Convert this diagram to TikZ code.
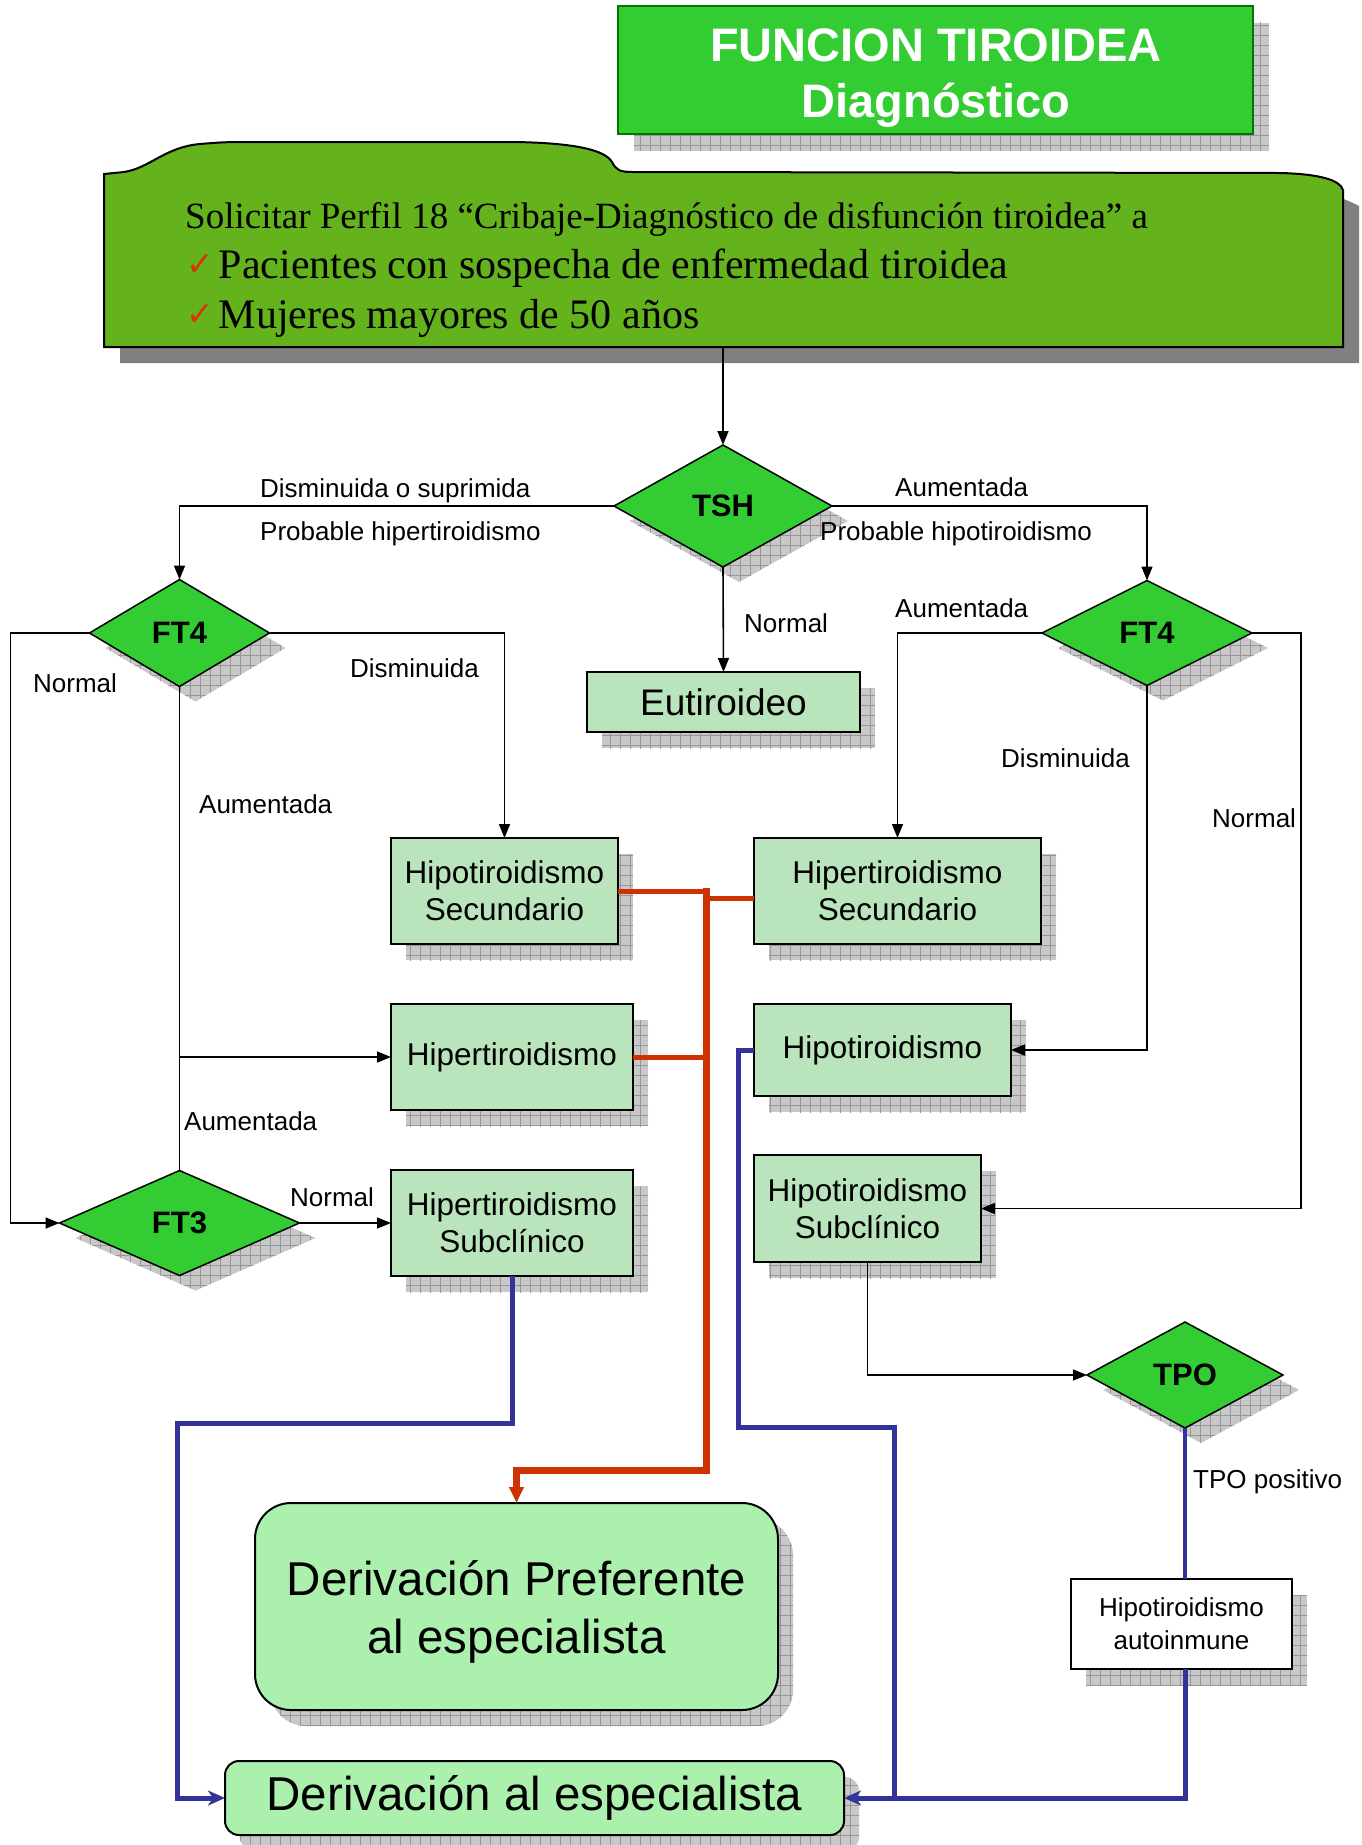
\documentclass[tikz,border=0pt]{standalone}
\usepackage{fontspec}
\setmainfont{Liberation Sans}
\newfontfamily\timesf{Liberation Serif}
\newfontfamily\dejaf{DejaVu Sans}
\usetikzlibrary{shapes.geometric,arrows.meta,patterns.meta,calc}
\pgfdeclarelayer{bg}
\pgfsetlayers{bg,main}
\definecolor{diagreen}{RGB}{51,204,51}
\definecolor{titleborder}{RGB}{0,120,0}
\definecolor{boxgreen}{RGB}{186,228,188}
\definecolor{derivgreen}{RGB}{172,240,174}
\definecolor{foldergreen}{RGB}{100,178,28}
\definecolor{fshadow}{RGB}{128,128,128}
\definecolor{shgray}{RGB}{200,200,200}
\definecolor{shline}{RGB}{150,150,150}
\definecolor{redc}{RGB}{204,51,0}
\definecolor{bluec}{RGB}{51,51,153}
\definecolor{checkred}{RGB}{220,50,10}
\newcommand\chkmark{{\dejaf\fontsize{33}{36}\selectfont\color{checkred}\raisebox{3pt}{✓}}\hspace{5pt}}
\newcommand\fldbody{(104,347) -- (104,174) -- (124,172) .. controls (150,168) and (165,147) .. (200,144) .. controls (225,142) .. (260,142) -- (515,142) .. controls (575,143) and (605,150) .. (612,162) .. controls (616,170) and (620,172) .. (632,172) -- (1280,173) .. controls (1320,174) and (1340,180) .. (1343,190) -- (1343,347) -- cycle}
\begin{document}
\begin{tikzpicture}[x=1pt,y=-1pt,
  lbl/.style={inner sep=0pt, anchor=base west, font=\fontsize{26}{30}\selectfont},
  dia/.style={diamond, draw=black, line width=1.5pt, fill=diagreen, inner sep=0pt, outer sep=0pt, font=\bfseries\fontsize{31}{36}\selectfont},
  box/.style={rectangle, draw=black, line width=2pt, fill=boxgreen, inner sep=0pt, outer sep=0pt, align=center, font=\fontsize{31.5}{37}\selectfont},
  dbox/.style={rectangle, rounded corners=#1, draw=black, line width=2pt, fill=derivgreen, inner sep=0pt, outer sep=0pt, align=center},
  conn/.style={draw=black, line width=1.6pt},
  arr/.style={conn, -{Triangle[length=14pt,width=11pt]}},
  redl/.style={draw=redc, line width=5pt},
  bluel/.style={draw=bluec, line width=5pt},
  btip/.style={-{Stealth[length=17pt,width=15pt,inset=5pt]}},
  shpat/.style={fill=shgray,
    postaction={pattern={Lines[angle=0,distance=10pt,line width=0.7pt]}, pattern color=shline},
    postaction={pattern={Lines[angle=90,distance=10pt,line width=0.7pt]}, pattern color=shline}},
]
\useasboundingbox (0,0) rectangle (1361,1845);

% folder
\path[fill=foldergreen, draw=black, line width=2pt] \fldbody;
\node[anchor=base west, inner sep=0pt, font=\timesf\fontsize{37}{44}\selectfont] (req1) at (185,228) {Solicitar Perfil 18 “Cribaje-Diagnóstico de disfunción tiroidea” a};
\node[anchor=base west, inner sep=0pt, font=\timesf\fontsize{42}{48}\selectfont] (req2) at (186,278) {\chkmark Pacientes con sospecha de enfermedad tiroidea};
\node[anchor=base west, inner sep=0pt, font=\timesf\fontsize{42}{48}\selectfont] (req3) at (186,328) {\chkmark Mujeres mayores de 50 años};
\coordinate (fb) at (723,347);

% title
\node[rectangle, draw=titleborder, line width=2pt, fill=diagreen, minimum width=635pt, minimum height=128pt, inner sep=0pt, outer sep=0pt] (title) at (935.5,69.5) {};
\node[anchor=base, inner sep=0pt, text=white, font=\bfseries\fontsize{47}{56}\selectfont] (t1) at (936,61) {FUNCION TIROIDEA};
\node[anchor=base, inner sep=0pt, text=white, font=\bfseries\fontsize{47}{56}\selectfont] (t2) at (936,117) {Diagnóstico};

% diamonds
\node[dia, minimum width=218pt, minimum height=122pt] (tsh) at (723,506) {TSH};
\node[dia, minimum width=180pt, minimum height=107pt] (ft4l) at (179.5,633) {FT4};
\node[dia, minimum width=210pt, minimum height=105pt] (ft4r) at (1147,633) {FT4};
\node[dia, minimum width=240pt, minimum height=105pt] (ft3) at (179.5,1223) {FT3};
\node[dia, minimum width=196pt, minimum height=106pt] (tpo) at (1185,1375) {TPO};

% boxes
\node[box, minimum width=273pt, minimum height=60pt, font=\fontsize{37}{44}\selectfont] (eut) at (723.5,702) {Eutiroideo};
\node[box, minimum width=227pt, minimum height=106pt] (hiposec) at (504.5,891) {Hipotiroidismo\\Secundario};
\node[box, minimum width=287pt, minimum height=106pt] (hipersec) at (897.5,891) {Hipertiroidismo\\Secundario};
\node[box, minimum width=242pt, minimum height=106pt] (hiper) at (512,1057) {Hipertiroidismo};
\node[box, minimum width=257pt, minimum height=92pt] (hipo) at (882.5,1050) {Hipotiroidismo};
\node[box, minimum width=242pt, minimum height=106pt] (hipersub) at (512,1223) {Hipertiroidismo\\Subclínico};
\node[box, minimum width=227pt, minimum height=107pt] (hiposub) at (867.5,1208.5) {Hipotiroidismo\\Subclínico};
\node[box, fill=white, minimum width=221pt, minimum height=90pt, font=\fontsize{26}{33}\selectfont] (autoinm) at (1181.5,1624) {Hipotiroidismo\\autoinmune};
\node[dbox=36pt, minimum width=523pt, minimum height=207pt, font=\fontsize{47.5}{58}\selectfont] (derivpref) at (516.5,1606.5) {\rule{0pt}{46pt}Derivación Preferente\\al especialista};
\node[dbox=14pt, minimum width=619pt, minimum height=74pt, font=\fontsize{47.5}{56}\selectfont] (deriv) at (534.5,1798) {Derivación al especialista};

% shadows
\begin{pgfonlayer}{bg}
\fill[fshadow] (120,363) -- (120,190) -- (1280,189) .. controls (1320,190) and (1340,196) .. (1359,206) -- (1359,363) -- cycle;
\path[shpat] ([shift={(16,17)}]title.north west) rectangle ([shift={(16,17)}]title.south east);
\foreach \n in {eut,hiposec,hipersec,hiper,hipo,hipersub,hiposub,autoinm}
  \path[shpat] ([shift={(15,16)}]\n.north west) rectangle ([shift={(15,16)}]\n.south east);
\foreach \n in {tsh,ft4l,ft4r,ft3,tpo}
  \path[shpat] ([shift={(16,15)}]\n.north) -- ([shift={(16,15)}]\n.east) -- ([shift={(16,15)}]\n.south) -- ([shift={(16,15)}]\n.west) -- cycle;
\path[shpat, rounded corners=36pt] ([shift={(15,16)}]derivpref.north west) rectangle ([shift={(15,16)}]derivpref.south east);
\path[shpat, rounded corners=14pt] ([shift={(15,16)}]deriv.north west) rectangle ([shift={(15,16)}]deriv.south east);
\end{pgfonlayer}

% black connectors
\draw[arr] (fb) -- (tsh.north);
\draw[arr] (tsh.west) -| (ft4l.north);
\draw[arr] (tsh.east) -| (ft4r.north);
\draw[arr] (tsh.south) -- (eut.north);
\draw[arr] (ft4l.east) -| (hiposec.north);
\draw[arr] (ft4l.west) -- ++(-79,0) |- (ft3.west);
\draw[conn] (ft4l.south) -- (ft3.north);
\draw[arr] (ft4l.south |- hiper.west) -- (hiper.west);
\draw[arr] (ft3.east) -- (hipersub.west);
\draw[arr] (ft4r.west) -| (hipersec.north);
\draw[arr] (ft4r.south) |- (hipo.east);
\draw[arr] (ft4r.east) -- ++(49,0) |- (hiposub.east);
\draw[arr] (hiposub.south) |- (tpo.west);

% labels
\node[lbl] (l1) at (260,497) {Disminuida o suprimida};
\node[lbl] (l2) at (260,540) {Probable hipertiroidismo};
\node[lbl] (l3) at (895,496) {Aumentada};
\node[lbl] (l4) at (820,540) {Probable hipotiroidismo};
\node[lbl] (l5) at (744,632) {Normal};
\node[lbl] (l6) at (33,692) {Normal};
\node[lbl] (l7) at (350,677) {Disminuida};
\node[lbl] (l8) at (199,813) {Aumentada};
\node[lbl] (l9) at (184,1130) {Aumentada};
\node[lbl] (l10) at (290,1206) {Normal};
\node[lbl] (l11) at (895,617) {Aumentada};
\node[lbl] (l12) at (1001,767) {Disminuida};
\node[lbl] (l13) at (1212,827) {Normal};
\node[lbl] (l14) at (1193,1488) {TPO positivo};

% red connectors
\coordinate (rt) at (706,888);
\coordinate (rb) at (706,1470);
\coordinate (hsw) at ($(hipersec.west)+(0,7)$);
\draw[redl] (hiposec.east) -- ([xshift=4pt]rt |- hiposec.east);
\draw[redl] (hsw) -- (rt |- hsw);
\draw[redl] (hiper.east) -- (rt |- hiper.east);
\draw[redl, line width=7pt, -{Triangle[length=16pt,width=14pt]}] (rt) -- (rb) -| (derivpref.north);

% blue connectors
\coordinate (bj) at (894,1798);
\coordinate (bl) at (177,1423);
\coordinate (br) at (894,1427);
\draw[bluel, line width=4pt] (tpo.south) -- (tpo.south |- autoinm.north);
\draw[bluel] (tpo.south |- autoinm.south) |- (bj);
\draw[bluel, btip] (hipo.west) -- ++(-16,0) |- (br) -- (bj) -- (deriv.east);
\draw[bluel, btip] (hipersub.south) |- (bl) |- (deriv.west);
\end{tikzpicture}
\end{document}
